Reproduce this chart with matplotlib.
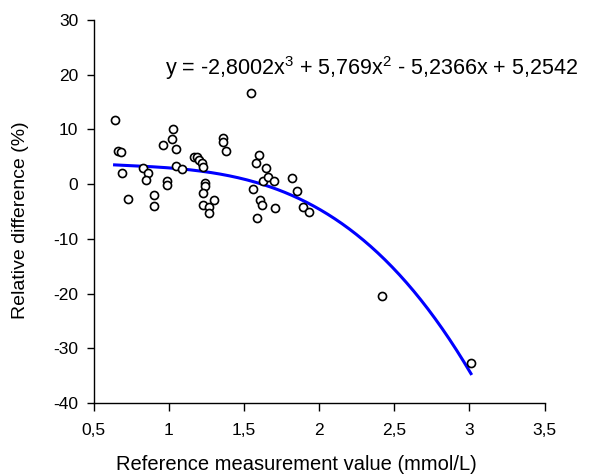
import matplotlib
matplotlib.use("Agg")
import matplotlib.pyplot as plt
import numpy as np

plt.rcParams['font.family'] = ['Liberation Sans', 'DejaVu Sans']
plt.rcParams['mathtext.default'] = 'regular'
plt.rcParams['axes.unicode_minus'] = False

# reference value (mmol/L) and relative difference (%)
ref_value = [0.64, 0.66, 0.68, 0.69, 0.73, 0.83, 0.86, 0.85, 0.90, 0.90,
             0.96, 0.99, 0.99, 1.03, 1.02, 1.05, 1.05, 1.09, 1.17, 1.19,
             1.20, 1.22, 1.23, 1.24, 1.24, 1.23, 1.23, 1.27, 1.27, 1.30,
             1.36, 1.36, 1.38, 1.55, 1.56, 1.58, 1.60, 1.59, 1.61, 1.62,
             1.63, 1.65, 1.66, 1.70, 1.71, 1.82, 1.85, 1.89, 1.93, 2.42,
             3.01]
rel_diff = [11.7, 6.1, 5.8, 2.0, -2.7, 2.9, 2.0, 0.8, -1.9, -4.0,
            7.1, 0.5, -0.1, 10.1, 8.2, 6.5, 3.4, 2.7, 5.0, 4.9,
            4.4, 3.8, 3.2, 0.2, -0.4, -1.6, -3.8, -4.1, -5.3, -2.9,
            8.4, 7.8, 6.1, 16.6, -0.9, 3.8, 5.4, -6.2, -2.9, -3.8,
            0.5, 2.9, 1.4, 0.5, -4.4, 1.2, -1.2, -4.1, -5.0, -20.5,
            -32.6]

# trend line coefficients as printed on the chart (x^3, x^2, x, 1)
trend_coef = [-2.8002, 5.769, -5.2366, 5.2542]
trend_label = "y = -2,8002x$^{3}$ + 5,769x$^{2}$ - 5,2366x + 5,2542"

x_ticks = [0.5, 1, 1.5, 2, 2.5, 3, 3.5]
x_tick_labels = ["0,5", "1", "1,5", "2", "2,5", "3", "3,5"]
y_ticks = [-40, -30, -20, -10, 0, 10, 20, 30]

fig = plt.figure(figsize=(5.92, 4.76), dpi=100)
ax = fig.add_axes([0.158, 0.153, 0.762, 0.805])

xs = np.linspace(min(ref_value), max(ref_value), 200)
ax.plot(xs, np.polyval(trend_coef, xs), color='#0000ff', lw=2.2, zorder=2)
ax.plot(ref_value, rel_diff, 'o', ms=5.8, mfc='white', mec='black', mew=1.2,
        zorder=3)

ax.text(0.977, 21.2, trend_label, fontsize=15.5, va='center', ha='left')

ax.set_xlim(0.5, 3.5)
ax.set_ylim(-40, 30)
ax.set_xticks(x_ticks)
ax.set_xticklabels(x_tick_labels)
ax.set_yticks(y_ticks)
ax.tick_params(axis='x', direction='out', length=6, width=1, labelsize=12.5, pad=8)
ax.tick_params(axis='y', direction='out', length=5, width=1, labelsize=12.5, pad=6)

for s in ['top', 'right']:
    ax.spines[s].set_visible(False)
for s in ['left', 'bottom']:
    ax.spines[s].set_linewidth(1)

# the original labels sit a little off the axis centres
ax.set_xlabel("Reference measurement value (mmol/L)", fontsize=14.5, va='center')
ax.xaxis.set_label_coords(0.449, -0.159)
ax.set_ylabel("Relative difference (%)", fontsize=14, va='center')
ax.yaxis.set_label_coords(-0.163, 0.478)

fig.savefig('out.png', dpi=100)
